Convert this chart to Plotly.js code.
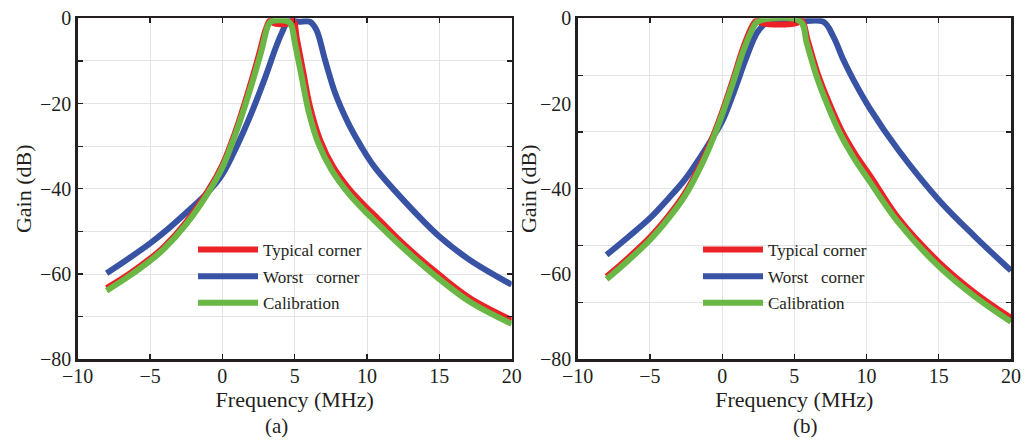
<!DOCTYPE html>
<html>
<head>
<meta charset="utf-8">
<script src="https://cdn.plot.ly/plotly-3.0.1.min.js"></script>
<style>html,body{margin:0;padding:0;background:#fff;}#chart{width:1032px;height:440px;}</style>
</head>
<body>
<div id="chart"></div>
<script>
// ---------- data: panel (a) ----------
var freqTypicalA = [-8,-6.5,-5,-4,-2.5,-1,0,0.6,1.1,2.0,2.6,3.0,3.3,3.6,4.6,4.9,5.15,5.6,6.05,6.75,7.65,8.8,10,10.6,12.5,15,17.1,20];
var gainTypicalA = [-63.3,-60.1,-56.4,-53.5,-47.8,-40.5,-34.4,-29.4,-24.6,-14.8,-7.6,-2.6,-0.5,-1.2,-1.2,-0.5,-4.8,-12.8,-20.6,-28.5,-34.8,-40.2,-44.5,-46.5,-52.9,-60.2,-65.6,-70.8];

var freqWorstA = [-8,-6.5,-5,-4,-2.5,-1,0,1,2,3,3.7,4.1,4.55,5.3,6.05,6.5,7.1,7.8,8.7,9.6,10.5,12.5,15,17.1,20];
var gainWorstA = [-59.8,-56.4,-52.8,-50.1,-45.6,-40.8,-36.6,-30.0,-22.3,-13.5,-6.8,-3.5,-0.8,-0.8,-0.8,-2.7,-9.8,-17.6,-24.6,-30.1,-34.8,-42.6,-51.2,-56.7,-62.5];

var freqCalA = [-8,-6.5,-5,-4,-2.5,-1,0,0.6,1.1,2.0,2.7,3.17,3.4,4.5,4.75,5.02,5.48,5.94,6.63,7.55,8.7,9.9,10.5,12.5,15,17.1,20];
var gainCalA = [-63.9,-60.6,-56.9,-54.0,-48.3,-41.0,-35.0,-30.0,-25.3,-15.8,-7.6,-1.6,-0.7,-0.7,-1.5,-5.9,-13.7,-21.5,-29.3,-35.6,-41,-45.4,-47.4,-53.9,-61.2,-66.5,-71.7];

// ---------- data: panel (b) ----------
var freqTypicalB = [-8,-6.5,-5,-3.7,-2.6,-1.4,-0.72,0,0.78,1.47,2.1,2.4,2.8,5.1,5.5,5.95,6.65,7.35,8.26,9.2,10.3,12.2,15,17.5,20];
var gainTypicalB = [-60.6,-56.2,-51.4,-46.3,-41.2,-33.6,-28.4,-22.0,-14.1,-6.8,-1.7,-0.5,-1.2,-1.2,-0.5,-5.5,-13.3,-19.4,-26.3,-31.8,-37.2,-46.9,-57.2,-64.4,-70.3];

var freqWorstB = [-8,-6.5,-5,-3.7,-2.6,-1.4,-0.7,0,0.78,1.7,2.4,3.0,3.4,5.2,7.0,7.7,8.4,9.1,10.2,12.2,15,17.5,20];
var gainWorstB = [-55.5,-51.3,-46.9,-42.2,-37.9,-32,-28.2,-24.2,-17.6,-9,-3.5,-1.2,-0.8,-0.8,-0.8,-4.3,-9.8,-14.5,-21,-30.9,-42.6,-51.2,-59.2];

var freqCalB = [-8,-6.5,-5,-3.7,-2.6,-1.4,-0.72,0,0.78,1.47,2.16,2.5,5.4,5.86,6.55,7.24,8.16,9.09,10.2,12.2,15,17.5,20];
var gainCalB = [-61.2,-56.8,-52,-46.9,-41.8,-34.2,-29,-22.6,-14.8,-7.6,-2.1,-0.7,-0.7,-5.9,-13.7,-19.9,-27,-32.6,-38.2,-47.9,-58.2,-65.3,-71.2];

var seriesNames = ["Typical corner", "Worst\u00a0\u00a0\u00a0corner", "Calibration"];
var xTickVals = [-10,-5,0,5,10,15,20];
var yTickVals = [0,-20,-40,-60,-80];
var panelLabels = ["(a)", "(b)"];
var xTitle = "Frequency (MHz)";
var yTitle = "Gain (dB)";

// ---------- styling ----------
var W = 1032, H = 440;
function px(x){ return x / W; }
function py(y){ return 1 - y / H; }
var FONT = "Liberation Serif, Times New Roman, serif";
var INK = "#231f20";
var RED = "#ec2227", BLUE = "#3953a4", GREEN = "#6ab746";
var GRID = "#e4e4e4";
var LW = 6;

function tr(x, y, name, color, xa, ya, leg, rank){
  return {x:x, y:y, name:name, type:"scatter", mode:"lines",
    line:{color:color, width:LW, shape:"spline", smoothing:1},
    xaxis:xa, yaxis:ya, legend:leg, legendrank:rank, legendgroup:leg+rank, hoverinfo:"skip"};
}

var data = [
  tr(freqWorstA, gainWorstA, seriesNames[1], BLUE, "x", "y", "legend", 2),
  tr(freqTypicalA, gainTypicalA, seriesNames[0], RED, "x", "y", "legend", 1),
  tr(freqCalA, gainCalA, seriesNames[2], GREEN, "x", "y", "legend", 3),
  tr(freqWorstB, gainWorstB, seriesNames[1], BLUE, "x2", "y2", "legend2", 2),
  tr(freqTypicalB, gainTypicalB, seriesNames[0], RED, "x2", "y3", "legend2", 1),
  tr(freqCalB, gainCalB, seriesNames[2], GREEN, "x2", "y3", "legend2", 3)
];

var tickFont = {family:FONT, size:20, color:INK};
function xAxis(dom, anchor){
  return {domain:dom, anchor:anchor, range:[-10,20], tickmode:"array", tickvals:xTickVals,
    ticks:"inside", ticklen:5, tickwidth:1.2, tickcolor:INK, mirror:"ticks",
    showline:true, linecolor:INK, linewidth:2.5, showgrid:true, gridcolor:GRID, gridwidth:1,
    zeroline:false, tickfont:tickFont, automargin:false, ticklabelstandoff:-3,
    title:{text:xTitle, font:{family:FONT, size:22, color:INK}, standoff:1}};
}
var yDom = [py(359.3), py(18.3)];

var legendCommon = {xanchor:"left", yanchor:"top", bgcolor:"rgba(0,0,0,0)",
  font:{family:FONT, size:17, color:INK}, itemwidth:60, tracegroupgap:1.5, traceorder:"grouped"};

var layout = {
  width:W, height:H, margin:{l:0, r:0, t:0, b:0},
  paper_bgcolor:"#fff", plot_bgcolor:"#fff", showlegend:true,
  font:{family:FONT, color:INK},
  xaxis: xAxis([px(77.7), px(511.7)], "y"),
  xaxis2: xAxis([px(577.7), px(1011)], "y2"),
  yaxis: {domain:yDom, anchor:"x", range:[-80,0], tickmode:"array", tickvals:yTickVals,
    ticks:"inside", ticklen:5, tickwidth:1.2, tickcolor:INK, mirror:"ticks",
    showline:true, linecolor:INK, linewidth:2.5, showgrid:true, gridcolor:GRID,
    zeroline:false, tickfont:tickFont, automargin:false,
    minor:{dtick:10, tick0:0, ticks:"inside", ticklen:5, tickcolor:INK, showgrid:true, gridcolor:GRID},
    title:{text:yTitle, font:{family:FONT, size:22, color:INK}, standoff:2}},
  // panel (b): labels every 20 dB, no grid
  yaxis2: {domain:yDom, anchor:"x2", range:[-80,0], tickmode:"array", tickvals:yTickVals,
    ticks:"", showgrid:false, showline:true, mirror:true, linecolor:INK, linewidth:2.5,
    zeroline:false, tickfont:tickFont, automargin:false},
  // panel (b): grid and ticks every 80/6 dB
  yaxis3: {overlaying:"y2", anchor:"x2", side:"left", domain:yDom, range:[-80,0], tickmode:"linear", tick0:0, dtick:80/6,
    ticks:"inside", ticklen:5, tickwidth:1.2, tickcolor:INK, mirror:"ticks",
    showline:false, showgrid:true, gridcolor:GRID, zeroline:false, showticklabels:false, automargin:false,
    title:{text:yTitle, font:{family:FONT, size:22, color:INK}, standoff:33}},
  legend: Object.assign({x:px(193), y:py(232)}, legendCommon),
  legend2: Object.assign({x:px(698), y:py(232)}, legendCommon),
  annotations: [
    {text:panelLabels[0], xref:"paper", yref:"paper", x:px(276), y:py(426), xanchor:"center", yanchor:"middle",
      showarrow:false, font:{family:FONT, size:21, color:INK}},
    {text:panelLabels[1], xref:"paper", yref:"paper", x:px(805), y:py(426), xanchor:"center", yanchor:"middle",
      showarrow:false, font:{family:FONT, size:21, color:INK}}
  ]
};

Plotly.newPlot("chart", data, layout, {staticPlot:true, displayModeBar:false});
</script>
</body>
</html>
